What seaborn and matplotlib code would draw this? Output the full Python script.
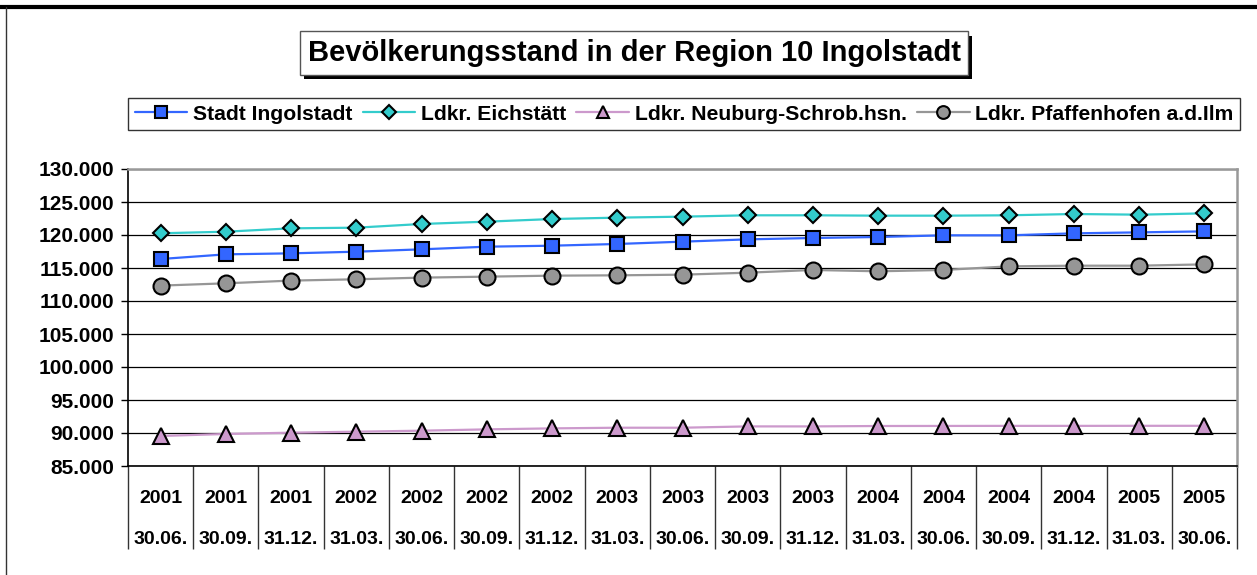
import matplotlib

matplotlib.use("Agg")

import matplotlib.pyplot as plt
import matplotlib.patheffects as pe
import pandas as pd
import seaborn as sns
from matplotlib.lines import Line2D
from matplotlib.ticker import FixedLocator, FuncFormatter


TITLE = "Bevölkerungsstand in der Region 10 Ingolstadt"

YEARS = ["2001", "2001", "2001", "2002", "2002", "2002", "2002", "2003", "2003",
         "2003", "2003", "2004", "2004", "2004", "2004", "2005", "2005"]
DATES = ["30.06.", "30.09.", "31.12.", "31.03.", "30.06.", "30.09.", "31.12.", "31.03.", "30.06.",
         "30.09.", "31.12.", "31.03.", "30.06.", "30.09.", "31.12.", "31.03.", "30.06."]

ingolstadt = [116360, 117070, 117220, 117470, 117830, 118230, 118380, 118640, 118990,
              119340, 119545, 119700, 119950, 119950, 120250, 120400, 120550]
eichstaett = [120260, 120500, 121010, 121110, 121670, 122020, 122420, 122630, 122780,
              122985, 122985, 122930, 122930, 122985, 123180, 123080, 123280]
neuburg = [89550, 89850, 90050, 90200, 90350, 90550, 90700, 90800, 90800,
           91000, 91000, 91060, 91070, 91080, 91080, 91090, 91090]
pfaffenhofen = [112330, 112680, 113090, 113290, 113540, 113690, 113840, 113890, 113990,
                114290, 114700, 114500, 114700, 115250, 115350, 115350, 115550]

SERIES = [
    ("Stadt Ingolstadt", ingolstadt, "#3366FF", "s", 10.5),
    ("Ldkr. Eichstätt", eichstaett, "#33CCCC", "D", 8.5),
    ("Ldkr. Neuburg-Schrob.hsn.", neuburg, "#CC99CC", "^", 11.5),
    ("Ldkr. Pfaffenhofen a.d.Ilm", pfaffenhofen, "#969696", "o", 11.5),
]

Y_TICKS = list(range(85000, 130001, 5000))

sns.set_style("white")
plt.rcParams["font.family"] = ["Liberation Sans", "DejaVu Sans"]
plt.rcParams["font.weight"] = "bold"
plt.rcParams["text.color"] = "black"
plt.rcParams["xtick.color"] = "black"
plt.rcParams["ytick.color"] = "black"

fig = plt.figure(figsize=(12.57, 5.75), dpi=100)
ax = fig.add_axes([128 / 1257, 1 - 466 / 575, (1237 - 128) / 1257, (466 - 169) / 575])

positions = list(range(len(DATES)))
for name, values, color, marker, size in SERIES:
    df = pd.DataFrame({"pos": positions, "value": values})
    sns.lineplot(data=df, x="pos", y="value", ax=ax, color=color, marker=marker,
                 markersize=size, markeredgecolor="black", markeredgewidth=1.5,
                 linewidth=1.6, label=name, legend=False)

ax.set_xlim(-0.5, len(DATES) - 0.5)
ax.set_ylim(Y_TICKS[0], Y_TICKS[-1])
ax.yaxis.set_major_locator(FixedLocator(Y_TICKS))
ax.yaxis.set_major_formatter(FuncFormatter(lambda v, _: f"{v:,.0f}".replace(",", ".")))
ax.yaxis.grid(True, color="black", linewidth=0.9)
ax.set_axisbelow(True)
ax.tick_params(axis="y", left=True, direction="out", length=5, width=1, color="black",
               labelsize=15, pad=5)

ax.set_xticks(positions)
ax.set_xticklabels([f"{y}\n{d}" for y, d in zip(YEARS, DATES)], fontsize=14,
                   linespacing=2.9)
ax.set_xticks([p - 0.5 for p in positions] + [positions[-1] + 0.5], minor=True)
ax.tick_params(axis="x", which="major", bottom=True, length=0, pad=17)
ax.tick_params(axis="x", which="minor", bottom=True, direction="out", length=60,
               width=1, color="#333333")
ax.set_xlabel("")
ax.set_ylabel("")

for side in ("left", "bottom"):
    ax.spines[side].set_color("black")
    ax.spines[side].set_linewidth(1.2)
for side in ("top", "right"):
    ax.spines[side].set_color("#999999")
    ax.spines[side].set_linewidth(1.8)

handles, labels = ax.get_legend_handles_labels()
fig.legend(handles, labels, loc="center", bbox_to_anchor=(684 / 1257, 1 - 114 / 575),
           ncol=4, frameon=True, fancybox=False, edgecolor="#333333", framealpha=1,
           fontsize=15.2, handlelength=2.5, handletextpad=0.25, columnspacing=0.5,
           borderpad=0.3, borderaxespad=0, markerscale=0.8)

title = fig.text(634 / 1257, 1 - 53 / 575, TITLE, ha="center", va="center",
                 fontsize=21, fontweight="bold",
                 bbox=dict(boxstyle="square,pad=0.26", fc="white", ec="#555555", lw=1))
title.get_bbox_patch().set_path_effects([
    pe.SimplePatchShadow(offset=(3, -3), shadow_rgbFace="black", alpha=1),
    pe.Normal(),
])

fig.add_artist(Line2D([0, 1], [1 - 7 / 575] * 2, transform=fig.transFigure,
                      color="black", linewidth=3))
fig.add_artist(Line2D([6 / 1257] * 2, [0, 1 - 7 / 575], transform=fig.transFigure,
                      color="#333333", linewidth=1))

fig.savefig("out.png", dpi=100)
